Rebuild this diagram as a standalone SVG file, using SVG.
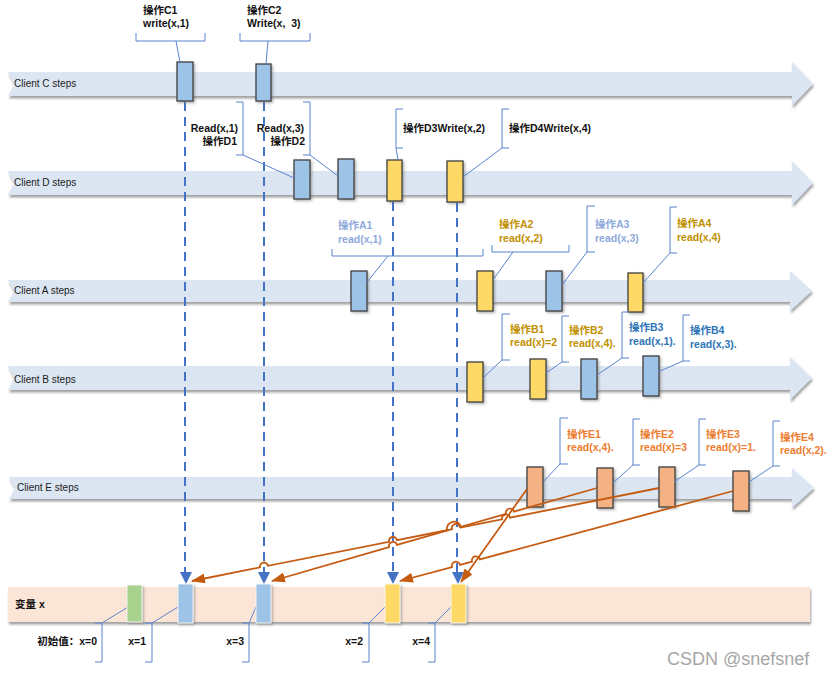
<svg xmlns="http://www.w3.org/2000/svg" width="830" height="675" viewBox="0 0 830 675">
<defs>
<filter id="sh" x="-5%" y="-30%" width="110%" height="170%">
<feDropShadow dx="1" dy="2.5" stdDeviation="1.2" flood-color="#555" flood-opacity="0.55"/>
</filter>
<filter id="bs" x="-40%" y="-20%" width="180%" height="140%">
<feDropShadow dx="1.5" dy="1.5" stdDeviation="1" flood-color="#666" flood-opacity="0.5"/>
</filter>
<marker id="oa" markerUnits="userSpaceOnUse" markerWidth="14" markerHeight="10" refX="13" refY="5" viewBox="0 0 14 10" orient="auto">
<path d="M0,0 L14,5 L0,10 z" fill="#c55a11"/>
</marker>
</defs>
<style>
.lane{fill:#dce6f2;filter:url(#sh)}
.lbl{font-family:"Liberation Sans","Noto Sans CJK SC",sans-serif;font-size:10px;fill:#1a1a1a}
.op{font-family:"Liberation Sans","Noto Sans CJK SC",sans-serif;font-size:10.5px;font-weight:bold;white-space:pre}
.k{fill:#111}.lb{fill:#8eaadb}.gd{fill:#bf9000}.db{fill:#2e75b6}.or{fill:#ed7d31}
.box{stroke:#3f3f3f;stroke-width:1.3;filter:url(#bs)}
.vb{stroke:#fff;stroke-width:0.8;filter:url(#bs)}
.blue{fill:#9dc3e6}.yel{fill:#ffd966}.org{fill:#f4b183}.grn{fill:#a9d18e}
.co{fill:none;stroke:#5b83d0;stroke-width:1}
.dash{stroke:#4472c4;stroke-width:2;stroke-dasharray:9 6;fill:none}
.tri{fill:#4472c4}
.rd{stroke:#c55a11;stroke-width:1.8;fill:none;marker-end:url(#oa)}
</style>

<g id="lanes">
<g id="laneC"><path class="lane" d="M8,72 L792,72 L792,62 L813,84 L792,106 L792,96 L8,96 L14,84 Z"/><text class="lbl" x="14" y="87">Client C steps</text></g>
<g id="laneD"><path class="lane" d="M8,171 L792,171 L792,161 L813,183 L792,205 L792,195 L8,195 L14,183 Z"/><text class="lbl" x="14" y="186">Client D steps</text></g>
<g id="laneA"><path class="lane" d="M8,280 L790,280 L790,271 L812,291 L790,311 L790,302 L8,302 L14,291 Z"/><text class="lbl" x="14" y="294">Client A steps</text></g>
<g id="laneB"><path class="lane" d="M8,366 L790,366 L790,357 L812,378 L790,400 L790,390 L8,390 L14,378 Z"/><text class="lbl" x="14" y="383">Client B steps</text></g>
<g id="laneE"><path class="lane" d="M9,477 L792,477 L792,468 L814,488 L792,508 L792,499 L9,499 L15,488 Z"/><text class="lbl" x="17" y="491">Client E steps</text></g>
<g id="varx"><rect x="8" y="587" width="802" height="35" fill="#fbe5d6" filter="url(#sh)"/><text class="op k" x="15" y="608">变量 x</text></g>
</g>

<g id="connectors">
<path class="dash" d="M185,102 V572"/>
<path class="dash" d="M264,102 V572"/>
<path class="dash" d="M393,202 V572"/>
<path class="dash" d="M457,203 V572"/>
<polygon class="tri" points="180,572 192,572 186,584"/>
<polygon class="tri" points="258,572 270,572 264,584"/>
<polygon class="tri" points="387,572 399,572 393,584"/>
<polygon class="tri" points="452,572 464,572 458,584"/>
</g>

<g id="nodes">
<g id="C1"><rect class="box blue" x="177" y="62" width="16" height="39"/><path class="co" d="M136,33 L136,41 L205,41 L205,33 M176,41 L180,62"/><text class="op k" x="143" y="14">操作C1</text><text class="op k" x="143" y="27">write(x,1)</text></g>
<g id="C2"><rect class="box blue" x="256" y="64" width="15" height="37"/><path class="co" d="M240,33 L240,41 L310,41 L310,33 M268,41 L266,64"/><text class="op k" x="247" y="14">操作C2</text><text class="op k" x="247" y="27">Write(x,  3)</text></g>
<g id="D1"><rect class="box blue" x="294" y="160" width="16" height="39"/><path class="co" d="M236,102 L243,102 L243,155 L236,155 M243,155 L294,178"/><text class="op k" x="238" y="132" text-anchor="end">Read(x,1)</text><text class="op k" x="237" y="145" text-anchor="end">操作D1</text></g>
<g id="D2"><rect class="box blue" x="338" y="159" width="16" height="40"/><path class="co" d="M303,102 L310,102 L310,155 L303,155 M310,155 L338,176"/><text class="op k" x="304" y="132" text-anchor="end">Read(x,3)</text><text class="op k" x="305" y="145" text-anchor="end">操作D2</text></g>
<g id="D3"><rect class="box yel" x="387" y="160" width="15" height="41"/><path class="co" d="M403,109 L396,109 L396,148 L403,148 M396,148 L398,160"/><text class="op k" x="403" y="132">操作D3Write(x,2)</text></g>
<g id="D4"><rect class="box yel" x="447" y="161" width="16" height="41"/><path class="co" d="M509,109 L502,109 L502,148 L509,148 M502,148 L463,177"/><text class="op k" x="509" y="132">操作D4Write(x,4)</text></g>

<g id="A1"><rect class="box blue" x="351" y="271" width="16" height="40"/><path class="co" d="M332,249 L332,256 L483,256 L483,249 M388,256 L367,282"/><text class="op lb" x="338" y="229">操作A1</text><text class="op lb" x="338" y="243">read(x,1)</text></g>
<g id="A2"><rect class="box yel" x="477" y="271" width="16" height="40"/><path class="co" d="M492,245 L492,252 L569,252 L569,245 M513,252 L493,280"/><text class="op gd" x="499" y="228">操作A2</text><text class="op gd" x="499" y="242">read(x,2)</text></g>
<g id="A3"><rect class="box blue" x="546" y="271" width="16" height="40"/><path class="co" d="M595,206 L587,206 L587,252 L595,252 M587,252 L562,285"/><text class="op lb" x="595" y="228">操作A3</text><text class="op lb" x="595" y="242">read(x,3)</text></g>
<g id="A4"><rect class="box yel" x="628" y="273" width="15" height="39"/><path class="co" d="M677,207 L670,207 L670,253 L677,253 M670,253 L643,283"/><text class="op gd" x="677" y="227">操作A4</text><text class="op gd" x="677" y="241">read(x,4)</text></g>

<g id="B1"><rect class="box yel" x="467" y="362" width="16" height="40"/><path class="co" d="M510,314 L502,314 L502,360 L510,360 M502,360 L483,378"/><text class="op gd" x="510" y="333">操作B1</text><text class="op gd" x="510" y="346">read(x)=2</text></g>
<g id="B2"><rect class="box yel" x="530" y="359" width="16" height="40"/><path class="co" d="M569,316 L562,316 L562,362 L569,362 M562,362 L546,373"/><text class="op gd" x="569" y="334">操作B2</text><text class="op gd" x="569" y="347">read(x,4).</text></g>
<g id="B3"><rect class="box blue" x="581" y="359" width="16" height="40"/><path class="co" d="M629,312 L622,312 L622,358 L629,358 M622,358 L597,375"/><text class="op db" x="629" y="331">操作B3</text><text class="op db" x="629" y="345">read(x,1).</text></g>
<g id="B4"><rect class="box blue" x="643" y="356" width="16" height="40"/><path class="co" d="M690,315 L683,315 L683,361 L690,361 M683,361 L658,372"/><text class="op db" x="690" y="334">操作B4</text><text class="op db" x="690" y="348">read(x,3).</text></g>

<g id="E1"><rect class="box org" x="527" y="467" width="16" height="40"/><path class="co" d="M568,418 L560,418 L560,464 L568,464 M560,464 L543,482"/><text class="op or" x="567" y="438">操作E1</text><text class="op or" x="567" y="451">read(x,4).</text></g>
<g id="E2"><rect class="box org" x="597" y="468" width="16" height="40"/><path class="co" d="M640,419 L633,419 L633,465 L640,465 M633,465 L613,483"/><text class="op or" x="640" y="438">操作E2</text><text class="op or" x="640" y="451">read(x)=3</text></g>
<g id="E3"><rect class="box org" x="659" y="467" width="16" height="40"/><path class="co" d="M706,419 L699,419 L699,465 L706,465 M699,465 L674,482"/><text class="op or" x="706" y="438">操作E3</text><text class="op or" x="706" y="451">read(x)=1.</text></g>
<g id="E4"><rect class="box org" x="733" y="471" width="16" height="40"/><path class="co" d="M780,421 L773,421 L773,466 L780,466 M773,466 L749,482"/><text class="op or" x="780" y="441">操作E4</text><text class="op or" x="780" y="454">read(x,2).</text></g>

<g id="X0"><path class="co" d="M95,623 L102,623 L102,662 L95,662 M102,623 L128,607"/><rect class="vb grn" x="127" y="585" width="15" height="37"/><text class="op k" x="97" y="645" text-anchor="end">初始值：x=0</text></g>
<g id="X1"><path class="co" d="M145,623 L152,623 L152,662 L145,662 M152,623 L178,607"/><rect class="vb blue" x="178" y="584" width="15" height="39"/><text class="op k" x="146" y="645" text-anchor="end">x=1</text></g>
<g id="X3"><path class="co" d="M242,623 L249,623 L249,662 L242,662 M249,623 L256,607"/><rect class="vb blue" x="256" y="584" width="15" height="39"/><text class="op k" x="244" y="645" text-anchor="end">x=3</text></g>
<g id="X2"><path class="co" d="M362,623 L369,623 L369,662 L362,662 M369,623 L385,607"/><rect class="vb yel" x="385" y="584" width="15" height="39"/><text class="op k" x="363" y="645" text-anchor="end">x=2</text></g>
<g id="X4"><path class="co" d="M428,623 L435,623 L435,662 L428,662 M435,623 L451,607"/><rect class="vb yel" x="451" y="584" width="15" height="39"/><text class="op k" x="430" y="645" text-anchor="end">x=4</text></g>
</g>

<g id="reads">
<path class="rd" d="M527,489 L461,582"/>
<path class="rd" d="M597,488 L514,511.6 A4,4 0 0 0 506,513.9 L460,527 A4,4 0 0 0 452,529.2 L397,544.9 A4,4 0 0 0 389,547.2 L272,581"/>
<path class="rd" d="M659,488 L510,517.7 A4,4 0 0 0 502,519.3 L461,527.4 A7,7 0 0 0 447,530.2 L397,540.2 A4,4 0 0 0 389,541.8 L268,565.8 A4,4 0 0 0 260,567.4 L192,581"/>
<path class="rd" d="M733,491 L480,559.4 A4,4 0 0 0 472,561.5 L460,564.8 A4,4 0 0 0 452,567 L400,581"/>
</g>

<text x="667" y="665" font-family="Liberation Sans, sans-serif" font-size="18" fill="#a6a6a6">CSDN @snefsnef</text>
</svg>
